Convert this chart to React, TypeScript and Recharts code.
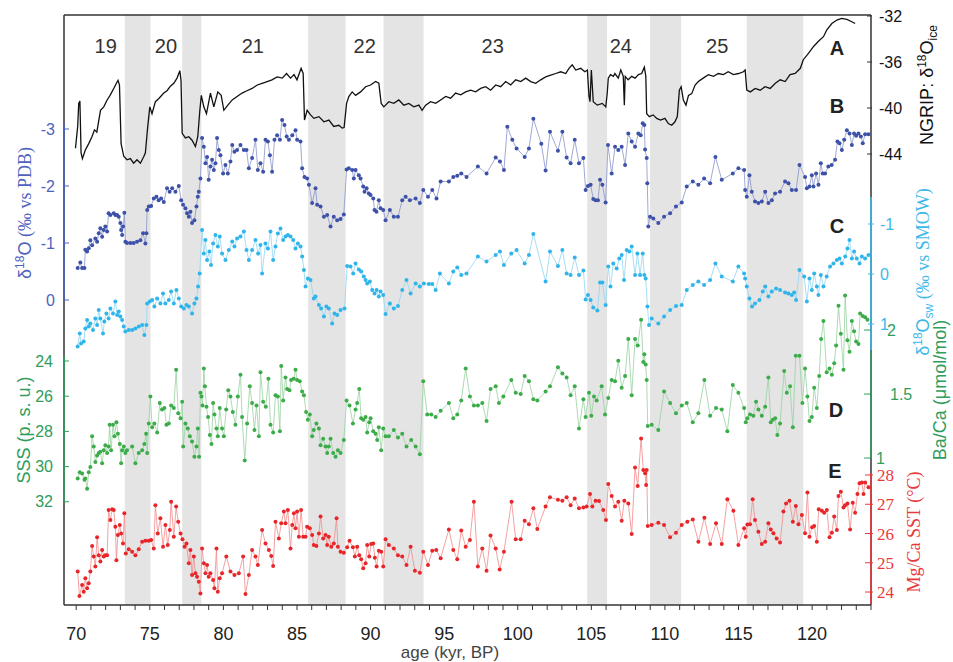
import React from "react";
import {
    ComposedChart,
    Line,
    XAxis,
    YAxis,
    ReferenceArea,
    ReferenceLine,
} from "recharts";

type Pt = [number, number];

// age (kyr BP) / value pairs
const ngrip: Pt[] = [
    [69.95, -43.5], [70.1, -41.6], [70.17, -39.6], [70.25, -39.4], [70.33, -43.9], [70.42, -44.4],
    [70.62, -43.65], [70.85, -43.1], [71.07, -42.5], [71.24, -41.9], [71.4, -42.1], [71.65, -40.2],
    [71.87, -39.9], [72.1, -39.3], [72.3, -38.9], [72.55, -38.3], [72.73, -37.85], [72.84, -37.6],
    [72.94, -38.0], [73.05, -43.1], [73.23, -44.2], [73.45, -44.5], [73.68, -44.4], [73.9, -44.8],
    [74.13, -44.5], [74.36, -44.8], [74.6, -44.2], [74.7, -43.9], [74.86, -41.6], [75.0, -39.9],
    [75.15, -40.5], [75.38, -39.45], [75.6, -39.2], [75.95, -38.7], [76.17, -38.5], [76.4, -38.1],
    [76.63, -37.85], [76.85, -37.4], [77.04, -36.75], [77.12, -37.6], [77.2, -42.2], [77.42, -42.6],
    [77.65, -42.5], [77.87, -42.8], [78.1, -43.35], [78.26, -42.5], [78.4, -40.2], [78.5, -38.9],
    [78.67, -39.9], [78.85, -40.5], [79.12, -38.7], [79.35, -39.9], [79.62, -38.6], [79.85, -38.9],
    [80.03, -40.2], [80.3, -39.75], [80.6, -39.3], [80.93, -39.0], [81.27, -38.7], [81.6, -38.5],
    [81.95, -38.3], [82.3, -38.0], [82.63, -37.85], [82.97, -37.7], [83.3, -37.55], [83.65, -37.3],
    [84.0, -37.4], [84.29, -37.0], [84.56, -37.4], [84.8, -37.1], [85.0, -37.55], [85.28, -36.55],
    [85.42, -37.0], [85.51, -41.05], [85.69, -40.2], [85.92, -40.6], [86.15, -40.9], [86.49, -40.75],
    [86.83, -41.2], [87.17, -41.05], [87.5, -41.6], [87.85, -41.5], [88.07, -41.75], [88.2, -41.7],
    [88.37, -39.6], [88.52, -39.0], [88.75, -38.6], [88.98, -38.9], [89.32, -38.6], [89.66, -38.15],
    [90.0, -38.0], [90.34, -37.7], [90.56, -37.85], [90.72, -39.6], [90.9, -39.9], [91.24, -39.45],
    [91.58, -39.6], [91.92, -39.3], [92.26, -39.75], [92.6, -39.6], [92.94, -39.9], [93.28, -39.75],
    [93.5, -40.2], [93.74, -39.75], [94.08, -39.45], [94.42, -39.6], [94.76, -39.3], [95.1, -39.0],
    [95.44, -39.15], [95.78, -38.7], [96.12, -38.85], [96.46, -38.6], [96.8, -38.45], [97.14, -38.6],
    [97.48, -38.3], [97.82, -38.15], [98.16, -38.45], [98.5, -38.0], [98.84, -38.15], [99.18, -37.7],
    [99.52, -38.0], [99.86, -37.55], [100.2, -37.7], [100.54, -37.4], [100.88, -37.7], [101.22, -37.85],
    [101.56, -37.55], [101.9, -37.3], [102.24, -37.15], [102.58, -37.0], [102.92, -36.85], [103.26, -37.0],
    [103.48, -36.55], [103.7, -36.25], [103.94, -36.7], [104.28, -36.55], [104.55, -36.85], [104.73, -36.7],
    [104.84, -39.0], [104.91, -39.45], [105.0, -36.7], [105.13, -39.45], [105.4, -39.75], [105.74, -39.6],
    [105.98, -39.9], [106.08, -38.7], [106.15, -37.4], [106.3, -37.1], [106.5, -37.25], [106.6, -37.0],
    [106.83, -37.4], [107.0, -36.7], [107.17, -37.25], [107.24, -39.75], [107.3, -37.25], [107.5, -37.55],
    [107.74, -37.25], [107.97, -37.4], [108.2, -37.1], [108.42, -37.0], [108.6, -36.45], [108.7, -37.25],
    [108.76, -40.5], [108.94, -40.75], [109.2, -40.6], [109.44, -40.9], [109.7, -41.05], [110.0, -40.9],
    [110.23, -41.35], [110.46, -41.5], [110.68, -41.2], [110.84, -40.75], [110.98, -38.45], [111.1, -38.15],
    [111.25, -39.3], [111.43, -39.75], [111.6, -38.9], [111.82, -38.75], [112.05, -38.0], [112.27, -37.7],
    [112.6, -37.4], [112.95, -37.1], [113.3, -37.25], [113.63, -37.0], [113.97, -37.1], [114.3, -36.85],
    [114.65, -37.1], [115.0, -37.0], [115.33, -36.85], [115.45, -36.7], [115.56, -38.45], [115.8, -38.6],
    [116.13, -38.3], [116.47, -38.45], [116.8, -38.15], [117.15, -38.3], [117.5, -37.85], [117.83, -37.55],
    [118.17, -37.7], [118.5, -37.1], [118.85, -37.0], [119.2, -36.55], [119.4, -35.8], [119.75, -35.25],
    [120.1, -34.65], [120.43, -34.2], [120.77, -33.8], [121.0, -33.2], [121.34, -32.65], [121.68, -32.35],
    [122.0, -32.2], [122.36, -32.3], [122.7, -32.5], [122.92, -32.65],
];

// planktonic d18O (per mil vs PDB)
const d18o: Pt[] = [
    [70.1, -0.56], [70.28, -0.66], [70.4, -0.56], [70.56, -0.56], [70.62, -0.88], [70.74, -0.85],
    [70.85, -0.91], [70.96, -1.05], [71.08, -0.96], [71.3, -1.08], [71.42, -1.02], [71.53, -1.17],
    [71.64, -1.26], [71.76, -1.11], [71.87, -1.23], [71.98, -1.29], [72.1, -1.2], [72.2, -1.52],
    [72.32, -1.49], [72.55, -1.52], [72.66, -1.49], [72.78, -1.49], [72.89, -1.46], [73.0, -1.35],
    [73.05, -1.23], [73.12, -1.14], [73.18, -1.29], [73.27, -1.53], [73.34, -1.02], [73.45, -1.0],
    [73.68, -1.0], [73.9, -1.0], [74.13, -1.02], [74.36, -1.05], [74.54, -1.17], [74.7, -0.99],
    [74.77, -1.17], [74.82, -1.58], [74.93, -1.64], [75.09, -1.65], [75.27, -1.78], [75.45, -1.81],
    [75.6, -1.75], [75.77, -1.78], [75.95, -1.72], [76.17, -1.96], [76.35, -1.9], [76.52, -1.96],
    [76.74, -1.9], [76.97, -2.0], [77.13, -1.75], [77.26, -1.67], [77.42, -1.61], [77.53, -1.52],
    [77.65, -1.46], [77.76, -1.55], [77.87, -1.35], [78.03, -1.4], [78.17, -1.64], [78.26, -1.81],
    [78.33, -1.9], [78.44, -2.13], [78.55, -2.84], [78.67, -2.69], [78.78, -2.4], [78.89, -2.51],
    [79.0, -2.11], [79.12, -2.34], [79.23, -2.46], [79.35, -2.28], [79.46, -2.4], [79.57, -2.84],
    [79.69, -2.63], [79.8, -2.54], [79.98, -2.22], [80.14, -2.37], [80.3, -2.22], [80.48, -2.43],
    [80.6, -2.72], [80.75, -2.6], [80.93, -2.63], [81.16, -2.72], [81.39, -2.63], [81.57, -2.63],
    [81.73, -2.31], [81.95, -2.49], [82.18, -2.81], [82.34, -2.28], [82.52, -2.4], [82.7, -2.25],
    [82.86, -2.81], [83.02, -2.78], [83.16, -2.54], [83.31, -2.25], [83.47, -2.81], [83.65, -2.89],
    [83.84, -2.81], [83.99, -3.16], [84.15, -3.07], [84.3, -2.87], [84.45, -2.81], [84.68, -2.89],
    [84.9, -2.98], [85.01, -2.81], [85.24, -2.78], [85.35, -2.31], [85.51, -2.16], [85.69, -2.13],
    [85.81, -2.02], [86.03, -1.7], [86.26, -1.96], [86.37, -1.67], [86.6, -1.64], [86.83, -1.46],
    [87.05, -1.49], [87.28, -1.29], [87.5, -1.46], [87.73, -1.4], [87.96, -1.42], [88.18, -1.5],
    [88.37, -2.29], [88.52, -2.31], [88.75, -2.28], [88.86, -2.13], [88.98, -2.28], [89.2, -2.19],
    [89.32, -2.13], [89.5, -1.99], [89.59, -1.9], [89.73, -1.96], [89.88, -1.87], [90.0, -1.84],
    [90.18, -1.78], [90.27, -1.58], [90.4, -1.55], [90.56, -1.75], [90.68, -1.61], [90.86, -1.58],
    [91.02, -1.4], [91.31, -1.58], [91.58, -1.46], [91.86, -1.46], [92.15, -1.75], [92.38, -1.81],
    [92.67, -1.75], [93.06, -1.78], [93.35, -1.7], [93.58, -1.93], [93.9, -1.81], [94.19, -1.93],
    [94.48, -1.78], [94.76, -2.08], [95.32, -2.08], [95.62, -2.16], [95.89, -2.18], [96.16, -2.22],
    [96.52, -2.16], [97.29, -2.34], [97.88, -2.22], [98.5, -2.5], [98.79, -2.43], [99.06, -2.28],
    [99.29, -3.04], [99.63, -2.81], [99.92, -2.66], [100.47, -2.51], [100.76, -2.66], [101.06, -3.18],
    [101.6, -2.74], [101.89, -2.27], [102.19, -2.95], [102.73, -2.62], [103.03, -2.95], [103.32, -2.5],
    [103.59, -2.4], [103.87, -2.81], [104.16, -2.4], [104.46, -2.49], [104.61, -1.93], [104.77, -2.0],
    [104.95, -2.02], [105.13, -1.77], [105.29, -1.75], [105.45, -1.75], [105.59, -2.11], [105.75, -2.02],
    [105.97, -1.71], [106.13, -2.72], [106.38, -2.22], [106.61, -2.69], [106.83, -2.63], [107.06, -2.69],
    [107.29, -2.37], [107.51, -2.92], [107.74, -2.78], [107.97, -2.69], [108.19, -2.92], [108.35, -2.89],
    [108.49, -3.1], [108.6, -3.07], [108.65, -2.64], [108.76, -2.49], [108.8, -2.05], [108.87, -1.29],
    [108.99, -1.46], [109.21, -1.43], [109.55, -1.35], [109.94, -1.46], [110.35, -1.52], [110.75, -1.64],
    [111.14, -1.71], [111.48, -1.99], [111.89, -2.08], [112.27, -2.02], [112.66, -2.13], [113.07, -2.05],
    [113.43, -2.51], [113.86, -2.11], [114.61, -2.22], [114.99, -2.31], [115.38, -2.28], [115.45, -1.93],
    [115.56, -1.81], [115.74, -2.19], [115.9, -1.9], [116.12, -1.73], [116.35, -1.7], [116.58, -1.73],
    [116.81, -1.9], [117.03, -1.7], [117.26, -1.75], [117.48, -1.87], [117.82, -1.9], [118.16, -2.08],
    [118.39, -2.05], [118.62, -1.93], [118.91, -1.93], [119.14, -2.37], [119.52, -2.16], [119.64, -1.96],
    [119.82, -1.99], [119.98, -2.19], [120.09, -1.99], [120.27, -2.22], [120.43, -2.02], [120.59, -2.4],
    [120.72, -2.22], [120.88, -2.22], [121.1, -2.34], [121.33, -2.37], [121.56, -2.46], [121.72, -2.78],
    [121.86, -2.75], [122.02, -2.63], [122.18, -2.81], [122.36, -2.98], [122.54, -2.92], [122.7, -2.72],
    [122.85, -2.92], [122.99, -2.88], [123.15, -2.92], [123.31, -2.87], [123.44, -2.75], [123.6, -2.91],
    [123.83, -2.91],
];

// seawater d18O (per mil vs SMOW)
const d18osw: Pt[] = [
    [70.1, 1.45], [70.24, 1.19], [70.33, 1.39], [70.51, 1.35], [70.62, 1.09], [70.74, 0.92],
    [70.85, 1.05], [70.96, 0.99], [71.14, 1.12], [71.3, 0.89], [71.42, 1.02], [71.53, 0.72],
    [71.64, 0.89], [71.82, 1.19], [71.91, 0.95], [72.05, 0.79], [72.2, 0.89], [72.32, 0.69],
    [72.5, 0.79], [72.66, 0.55], [72.78, 0.82], [72.89, 0.75], [73.0, 0.85], [73.12, 0.92],
    [73.23, 1.05], [73.34, 1.15], [73.57, 1.12], [73.8, 1.12], [74.02, 1.09], [74.25, 1.05],
    [74.48, 1.02], [74.63, 1.22], [74.77, 1.02], [74.82, 0.59], [75.0, 0.55], [75.16, 0.52],
    [75.31, 0.65], [75.5, 0.49], [75.72, 0.59], [75.9, 0.39], [76.06, 0.59], [76.29, 0.52],
    [76.45, 0.35], [76.63, 0.59], [76.81, 0.32], [76.97, 0.49], [77.13, 0.65], [77.31, 0.69],
    [77.49, 0.62], [77.65, 0.65], [77.87, 0.79], [78.03, 0.59], [78.17, 0.49], [78.28, 0.25],
    [78.39, -0.01], [78.55, -0.88], [78.67, -0.41], [78.78, -0.68], [78.89, -0.28], [79.05, -0.45],
    [79.16, -0.18], [79.3, -0.61], [79.46, -0.78], [79.62, -0.55], [79.75, -0.75], [79.91, -0.41],
    [80.14, -0.28], [80.37, -0.48], [80.6, -0.65], [80.75, -0.55], [80.93, -0.71], [81.16, -0.75],
    [81.39, -0.85], [81.57, -0.48], [81.73, -0.28], [81.95, -0.48], [82.18, -0.68], [82.36, -0.41],
    [82.52, -0.58], [82.63, -0.01], [82.86, -0.61], [83.02, -0.51], [83.2, -0.85], [83.38, -0.28],
    [83.54, -0.55], [83.7, -0.81], [83.88, -0.91], [84.06, -0.68], [84.22, -0.75], [84.38, -0.78],
    [84.56, -0.75], [84.74, -0.68], [84.9, -0.51], [85.06, -0.61], [85.24, -0.55], [85.35, -0.35],
    [85.47, -0.08], [85.58, 0.25], [85.74, 0.09], [85.92, 0.12], [86.14, 0.49], [86.26, 0.45],
    [86.49, 0.62], [86.64, 0.69], [86.83, 0.85], [87.0, 0.65], [87.16, 0.69], [87.39, 0.99],
    [87.55, 0.79], [87.73, 0.82], [87.96, 0.72], [88.23, 0.69], [88.41, -0.16], [88.64, -0.15],
    [88.82, -0.01], [88.98, -0.21], [89.2, -0.09], [89.36, -0.05], [89.54, 0.05], [89.66, 0.12],
    [89.77, 0.19], [89.95, 0.15], [90.11, 0.32], [90.27, 0.39], [90.41, 0.32], [90.56, 0.45],
    [90.68, 0.35], [90.86, 0.42], [91.02, 0.8], [91.31, 0.59], [91.58, 0.69], [91.86, 0.64],
    [92.15, 0.32], [92.44, 0.12], [92.72, 0.39], [93.06, 0.19], [93.35, 0.25], [93.62, 0.19],
    [93.96, 0.2], [94.19, 0.2], [94.42, 0.32], [94.71, -0.01], [95.32, 0.19], [95.62, -0.05],
    [95.89, -0.13], [96.16, 0.02], [96.52, -0.01], [97.29, -0.35], [97.88, -0.25], [98.5, -0.38],
    [98.79, -0.45], [99.06, -0.18], [99.56, -0.41], [99.92, -0.48], [100.47, -0.21], [100.76, -0.38],
    [101.06, -0.8], [101.89, 0.15], [102.19, -0.45], [102.73, -0.16], [103.03, -0.48], [103.32, -0.01],
    [103.59, 0.02], [103.87, -0.33], [104.16, 0.02], [104.46, -0.07], [104.61, 0.51], [104.77, 0.42],
    [104.95, 0.52], [105.13, 0.67], [105.41, 0.73], [105.59, 0.17], [105.75, 0.17], [105.97, 0.62],
    [106.15, -0.15], [106.3, 0.25], [106.49, -0.21], [106.72, -0.11], [106.9, -0.31], [107.06, -0.38],
    [107.22, 0.12], [107.4, -0.48], [107.58, -0.45], [107.74, -0.55], [107.97, 0.02], [108.13, -0.41],
    [108.31, 0.02], [108.49, -0.41], [108.6, 0.02], [108.69, 0.09], [108.81, 0.65], [108.92, 1.02],
    [109.1, 0.89], [109.55, 0.99], [109.94, 0.85], [110.35, 0.72], [110.75, 0.64], [111.14, 0.62],
    [111.48, 0.32], [111.89, 0.22], [112.27, 0.15], [112.66, 0.22], [113.07, 0.12], [113.43, -0.21],
    [113.86, 0.05], [114.61, 0.15], [114.99, -0.15], [115.38, -0.01], [115.45, 0.09], [115.56, 0.25],
    [115.74, 0.49], [115.92, 0.65], [116.12, 0.59], [116.42, 0.52], [116.65, 0.35], [116.81, 0.25],
    [117.03, 0.45], [117.26, 0.35], [117.55, 0.29], [117.82, 0.32], [118.16, 0.37], [118.39, 0.39],
    [118.62, 0.42], [118.78, 0.37], [118.91, 0.52], [119.14, -0.08], [119.46, 0.05], [119.64, 0.55],
    [119.82, 0.09], [119.98, 0.32], [120.14, -0.01], [120.32, 0.25], [120.43, 0.42], [120.59, 0.02],
    [120.77, 0.25], [120.99, 0.05], [121.22, -0.15], [121.45, -0.21], [121.68, -0.28], [121.86, -0.31],
    [122.02, -0.21], [122.25, -0.35], [122.4, -0.51], [122.54, -0.68], [122.7, -0.31], [122.85, -0.45],
    [123.03, -0.31], [123.22, -0.21], [123.38, -0.35], [123.6, -0.31], [123.83, -0.38],
];

// Ba/Ca (umol/mol), also read as SSS on the left axis
const baca: Pt[] = [
    [70.1, 0.84], [70.24, 0.89], [70.4, 0.88], [70.56, 0.83], [70.62, 0.84], [70.74, 0.76],
    [70.85, 0.89], [70.96, 0.93], [71.08, 1.17], [71.19, 1.09], [71.3, 0.97], [71.42, 1.02],
    [71.53, 1.04], [71.64, 1.05], [71.76, 0.96], [71.87, 1.06], [71.98, 1.1], [72.1, 1.04],
    [72.2, 1.09], [72.27, 1.26], [72.37, 1.06], [72.5, 1.26], [72.6, 1.17], [72.73, 1.28],
    [72.83, 1.19], [72.96, 1.11], [73.05, 0.96], [73.12, 1.06], [73.23, 1.09], [73.34, 1.04],
    [73.45, 1.06], [73.8, 1.09], [74.02, 0.96], [74.25, 1.04], [74.48, 1.06], [74.63, 1.11],
    [74.75, 1.19], [74.82, 1.04], [74.93, 1.27], [75.04, 1.48], [75.16, 1.24], [75.31, 1.27],
    [75.5, 1.2], [75.68, 1.43], [75.83, 1.38], [75.99, 1.39], [76.13, 1.26], [76.29, 1.27],
    [76.45, 1.41], [76.63, 1.39], [76.79, 1.69], [76.93, 1.35], [77.09, 1.31], [77.2, 1.44],
    [77.27, 1.09], [77.42, 1.27], [77.58, 1.23], [77.72, 1.17], [77.87, 1.13], [78.03, 1.01],
    [78.17, 1.09], [78.26, 1.23], [78.35, 1.01], [78.44, 1.51], [78.51, 1.48], [78.58, 1.41],
    [78.67, 1.7], [78.74, 1.56], [78.85, 1.4], [78.96, 1.32], [79.08, 1.18], [79.19, 1.11],
    [79.3, 1.43], [79.39, 1.34], [79.53, 1.23], [79.62, 1.17], [79.75, 1.39], [79.91, 1.23],
    [80.03, 1.17], [80.19, 1.38], [80.33, 1.53], [80.48, 1.48], [80.64, 1.36], [80.82, 1.26],
    [80.98, 1.48], [81.16, 1.65], [81.27, 1.32], [81.45, 0.98], [81.61, 1.27], [81.79, 1.56],
    [81.95, 1.43], [82.11, 1.22], [82.25, 1.41], [82.41, 1.17], [82.52, 1.67], [82.7, 1.44],
    [82.88, 1.4], [83.06, 1.62], [83.2, 1.26], [83.38, 1.2], [83.54, 1.49], [83.7, 1.48],
    [83.84, 1.21], [83.93, 1.72], [84.06, 1.45], [84.22, 1.63], [84.33, 1.54], [84.49, 1.53],
    [84.6, 1.61], [84.78, 1.62], [84.9, 1.69], [85.01, 1.61], [85.19, 1.6], [85.35, 1.52],
    [85.47, 1.49], [85.62, 1.36], [85.74, 1.3], [85.87, 1.34], [86.03, 1.17], [86.14, 1.22],
    [86.32, 1.27], [86.49, 1.23], [86.6, 1.1], [86.78, 1.15], [86.94, 1.09], [87.05, 1.04],
    [87.16, 1.09], [87.28, 1.15], [87.46, 1.04], [87.62, 1.01], [87.78, 1.06], [87.96, 1.04],
    [88.18, 1.14], [88.37, 1.45], [88.57, 1.41], [88.8, 1.27], [88.98, 1.38], [89.09, 1.43],
    [89.23, 1.54], [89.36, 1.31], [89.5, 1.3], [89.66, 1.32], [89.77, 1.2], [89.91, 1.28],
    [90.0, 1.31], [90.18, 1.21], [90.34, 1.19], [90.45, 1.14], [90.56, 1.24], [90.72, 1.06],
    [90.86, 1.23], [91.02, 1.17], [91.24, 1.17], [91.58, 1.22], [91.86, 1.16], [92.15, 1.19],
    [92.44, 1.09], [92.76, 1.14], [93.06, 1.09], [93.35, 1.03], [93.58, 1.6], [93.85, 1.34],
    [94.12, 1.34], [94.42, 1.32], [94.76, 1.37], [95.32, 1.43], [95.62, 1.31], [95.89, 1.34],
    [96.16, 1.45], [96.46, 1.7], [96.75, 1.48], [97.02, 1.41], [97.29, 1.41], [97.59, 1.43],
    [97.88, 1.29], [98.15, 1.54], [98.5, 1.56], [98.72, 1.43], [99.02, 1.48], [99.56, 1.61],
    [99.86, 1.51], [100.2, 1.5], [100.47, 1.64], [100.76, 1.6], [101.06, 1.46], [101.33, 1.45],
    [101.89, 1.52], [102.19, 1.56], [102.73, 1.71], [103.03, 1.66], [103.32, 1.63], [103.59, 1.49],
    [103.87, 1.56], [104.16, 1.23], [104.46, 1.46], [104.61, 1.32], [104.84, 1.51], [105.0, 1.33],
    [105.18, 1.48], [105.36, 1.45], [105.7, 1.56], [105.93, 1.34], [106.15, 1.47], [106.38, 1.61],
    [106.61, 1.6], [106.83, 1.76], [107.06, 1.55], [107.29, 1.64], [107.51, 1.93], [107.74, 1.49],
    [107.97, 1.93], [108.15, 1.88], [108.38, 2.08], [108.53, 1.75], [108.6, 1.81], [108.69, 1.73],
    [108.76, 1.61], [108.83, 1.25], [109.1, 1.26], [109.55, 1.22], [109.94, 1.52], [110.35, 1.43],
    [110.75, 1.35], [111.14, 1.41], [111.48, 1.43], [111.89, 1.28], [112.27, 1.35], [112.68, 1.61],
    [113.07, 1.33], [113.47, 1.39], [113.86, 1.38], [114.24, 1.21], [114.61, 1.57], [114.99, 1.51],
    [115.38, 1.39], [115.49, 1.28], [115.6, 1.31], [115.78, 1.34], [116.01, 1.33], [116.19, 1.44],
    [116.35, 1.38], [116.58, 1.33], [116.81, 1.4], [117.03, 1.63], [117.19, 1.28], [117.33, 1.3],
    [117.49, 1.31], [117.64, 1.18], [117.82, 1.27], [118.1, 1.68], [118.28, 1.51], [118.5, 1.56],
    [118.69, 1.24], [118.89, 1.8], [119.14, 1.8], [119.34, 1.43], [119.52, 1.7], [119.68, 1.48],
    [119.82, 1.29], [119.98, 1.32], [120.14, 1.55], [120.32, 1.39], [120.48, 1.64], [120.61, 1.93],
    [120.77, 2.07], [120.99, 1.67], [121.18, 1.7], [121.34, 1.65], [121.5, 1.74], [121.63, 1.88],
    [121.79, 2.19], [121.95, 1.97], [122.13, 1.69], [122.24, 2.27], [122.4, 1.92], [122.54, 1.83],
    [122.7, 2.07], [122.85, 1.99], [122.99, 1.91], [123.15, 1.89], [123.26, 2.13], [123.44, 2.11],
    [123.6, 2.1], [123.76, 2.08],
];

// Mg/Ca SST (deg C)
const sst: Pt[] = [
    [70.1, 24.7], [70.22, 23.86], [70.4, 24.24], [70.51, 24.01], [70.62, 24.47], [70.74, 24.13],
    [70.85, 24.3], [70.96, 24.7], [71.08, 25.57], [71.19, 25.21], [71.3, 24.87], [71.42, 25.87],
    [71.53, 25.26], [71.64, 25.04], [71.76, 25.44], [71.87, 25.21], [71.98, 25.26], [72.1, 25.26],
    [72.2, 26.8], [72.32, 26.46], [72.44, 26.83], [72.55, 26.8], [72.66, 26.23], [72.73, 25.09],
    [72.83, 25.95], [72.96, 26.29], [73.05, 26.0], [73.18, 25.66], [73.27, 26.69], [73.37, 25.32],
    [73.57, 25.46], [73.8, 25.38], [74.02, 25.26], [74.25, 25.46], [74.48, 25.72], [74.7, 25.75],
    [74.93, 25.75], [75.09, 25.78], [75.27, 25.49], [75.38, 26.97], [75.54, 26.0], [75.72, 26.52],
    [75.9, 25.55], [76.06, 26.29], [76.22, 25.61], [76.36, 26.12], [76.45, 27.09], [76.63, 25.89],
    [76.79, 26.92], [76.93, 26.4], [77.09, 26.0], [77.22, 25.8], [77.36, 25.55], [77.49, 25.66],
    [77.65, 24.98], [77.76, 25.44], [77.87, 24.58], [77.99, 25.21], [78.1, 24.64], [78.21, 24.52],
    [78.33, 24.35], [78.44, 23.95], [78.55, 25.49], [78.67, 24.98], [78.78, 24.64], [78.89, 24.92],
    [79.0, 24.52], [79.12, 24.64], [79.3, 24.41], [79.39, 24.13], [79.53, 25.49], [79.62, 24.01],
    [79.75, 24.47], [79.91, 24.64], [80.2, 25.21], [80.48, 24.7], [80.75, 24.58], [81.05, 24.64],
    [81.34, 25.21], [81.5, 23.93], [81.73, 24.58], [81.95, 25.44], [82.18, 25.21], [82.34, 24.92],
    [82.63, 26.12], [82.86, 25.66], [83.09, 25.44], [83.25, 25.23], [83.38, 24.89], [83.54, 26.4],
    [83.77, 25.83], [83.93, 26.35], [84.11, 26.75], [84.22, 26.35], [84.38, 26.8], [84.56, 25.49],
    [84.68, 26.29], [84.79, 26.69], [84.9, 26.18], [85.01, 26.75], [85.13, 25.89], [85.28, 26.8],
    [85.42, 25.89], [85.58, 25.89], [85.69, 26.23], [85.87, 26.18], [86.03, 25.95], [86.14, 25.61],
    [86.32, 25.57], [86.49, 26.0], [86.6, 26.58], [86.78, 25.83], [86.94, 25.95], [87.05, 25.61],
    [87.16, 25.89], [87.33, 25.55], [87.5, 25.66], [87.69, 26.52], [87.78, 25.55], [87.96, 25.38],
    [88.18, 25.34], [88.41, 25.53], [88.57, 25.75], [88.8, 25.53], [88.93, 25.21], [89.09, 25.55],
    [89.23, 25.26], [89.36, 25.12], [89.5, 24.81], [89.66, 24.98], [89.77, 25.61], [89.91, 25.21],
    [90.04, 25.64], [90.18, 25.66], [90.29, 25.17], [90.41, 24.87], [90.56, 25.41], [90.72, 25.38],
    [90.86, 24.87], [91.02, 25.8], [91.24, 25.61], [91.58, 25.49], [91.86, 25.26], [92.15, 25.21],
    [92.44, 24.92], [92.72, 25.55], [93.01, 24.73], [93.35, 24.66], [93.58, 25.38], [93.9, 24.92],
    [94.19, 25.41], [94.46, 25.44], [94.76, 25.15], [95.32, 26.14], [95.62, 25.44], [95.89, 25.12],
    [96.16, 26.1], [96.46, 25.55], [96.75, 25.78], [97.02, 27.09], [97.29, 24.87], [97.59, 25.49],
    [97.88, 24.73], [98.15, 25.93], [98.5, 25.49], [98.77, 24.77], [99.06, 25.38], [99.58, 27.09],
    [99.86, 25.8], [100.2, 25.8], [100.47, 26.44], [100.76, 26.32], [101.06, 26.86], [101.33, 26.15],
    [101.89, 26.92], [102.19, 27.24], [102.73, 27.15], [103.03, 27.12], [103.32, 27.24], [103.59, 26.97],
    [103.87, 27.2], [104.16, 26.86], [104.46, 26.89], [104.68, 26.92], [104.91, 27.35], [105.07, 26.92],
    [105.29, 27.12], [105.52, 27.11], [105.81, 26.8], [105.99, 26.46], [106.15, 27.69], [106.38, 27.28],
    [106.61, 26.92], [106.83, 27.09], [107.06, 26.44], [107.24, 27.12], [107.51, 27.03], [107.74, 25.98],
    [107.97, 28.26], [108.15, 27.62], [108.38, 29.25], [108.53, 28.17], [108.65, 28.06], [108.72, 27.66],
    [108.76, 28.17], [108.83, 26.26], [109.1, 26.29], [109.55, 26.37], [109.94, 26.29], [110.35, 25.87],
    [110.75, 26.03], [111.14, 26.29], [111.52, 26.4], [111.89, 26.48], [112.27, 25.72], [112.68, 26.54],
    [113.07, 25.64], [113.47, 26.35], [113.86, 25.64], [114.24, 27.17], [114.65, 26.78], [114.99, 25.61],
    [115.38, 26.18], [115.49, 25.89], [115.6, 26.31], [115.78, 26.32], [115.96, 27.17], [116.12, 26.46],
    [116.35, 26.06], [116.58, 25.64], [116.81, 25.72], [117.03, 26.35], [117.19, 26.14], [117.37, 26.01],
    [117.59, 25.83], [117.82, 25.69], [118.05, 26.75], [118.23, 27.03], [118.46, 27.12], [118.69, 26.4],
    [118.89, 26.94], [119.07, 26.32], [119.3, 26.63], [119.52, 26.01], [119.68, 27.4], [119.82, 25.89],
    [120.0, 26.21], [120.14, 26.26], [120.32, 25.72], [120.45, 26.83], [120.66, 26.78], [120.82, 26.71],
    [121.0, 26.8], [121.18, 25.87], [121.34, 26.03], [121.5, 26.58], [121.68, 26.12], [121.79, 27.28],
    [121.95, 27.43], [122.13, 26.89], [122.24, 26.97], [122.4, 27.03], [122.58, 26.14], [122.76, 27.05],
    [122.92, 26.71], [123.08, 27.35], [123.22, 27.72], [123.38, 27.74], [123.49, 27.35], [123.6, 27.74],
    [123.83, 27.58],
];

// glacial stadials (grey bands), kyr BP
const stadials: Pt[] = [
    [73.3, 75.05], [77.2, 78.5], [85.76, 88.3], [90.88, 93.6],
    [104.72, 106.07], [108.99, 111.1], [115.56, 119.4],
];

// marine isotope stage labels
const misLabels = ["19", "20", "21", "22", "23", "24", "25"];
const misAges = [72.0, 76.1, 82.0, 89.6, 98.3, 107.0, 113.55];

const ngripTicks = [-32, -36, -40, -44];
const d18oTicks = [-3, -2, -1, 0];
const swTicks = [-1, 0, 1];
const bacaTicks = [1, 1.5, 2];
const sssTicks = [24, 26, 28, 30, 32];
const sstTicks = [24, 25, 26, 27, 28];
const ageTicks = Array.from({ length: 55 }, (_, i) => 70 + i);

const X_MIN = 69.17;
const X_MAX = 124;
const PLOT_LEFT = 64;
const PLOT_RIGHT = 871;

const SANS = "'Liberation Sans', Arial, Helvetica, sans-serif";
const SERIF = "'Liberation Serif', 'Times New Roman', serif";

const FRAME = "#333333";
const BLUE = "#3d51a8";
const BLUE_LINE = "#8893cc";
const BLUE_TEXT = "#4f63bd";
const CYAN = "#2fb5ea";
const CYAN_LINE = "#8fd5f2";
const CYAN_TEXT = "#3cb9ea";
const GREEN = "#3cab4a";
const GREEN_LINE = "#98d2a0";
const GREEN_TEXT = "#2f9d5c";
const RED = "#e8262a";
const RED_LINE = "#f28a8a";
const RED_TEXT = "#e8393c";

const rows = (pts: Pt[]) => pts.map(([age, v]) => ({ age, v }));

const ageToPx = (age: number) =>
    PLOT_LEFT + ((age - X_MIN) / (X_MAX - X_MIN)) * (PLOT_RIGHT - PLOT_LEFT);

// the Ba/Ca labels sit a little further out than the others
const BACA_SHIFT: Record<string, number> = { "1": 0, "1.5": 14, "2": 11 };

const BaCaTick = (props: any) => {
    const { x, y, payload } = props;
    return (
        <text
            x={x + (BACA_SHIFT[String(payload.value)] ?? 0)}
            y={y}
            dy="0.35em"
            textAnchor="start"
            fill={GREEN_TEXT}
            fontSize={16}
            fontFamily={SANS}
        >
            {payload.value}
        </text>
    );
};

const dot = (fill: string) => ({ r: 2, fill, stroke: "none" });

// every y axis is 1px wide so it still renders; left axes stack 2px, right axes 4px
const App = () => {
    return (
        <div
            style={{
                position: "absolute",
                left: 0,
                top: 0,
                width: 953,
                height: 662,
                background: "#fff",
            }}
        >
            <ComposedChart
                width={953}
                height={662}
                margin={{ top: 14, right: 953 - PLOT_RIGHT - 4, left: PLOT_LEFT - 2, bottom: 27 }}
            >
                <XAxis
                    type="number"
                    dataKey="age"
                    domain={[X_MIN, X_MAX]}
                    allowDataOverflow
                    ticks={ageTicks}
                    interval={0}
                    tickFormatter={(v: number) => (v % 5 === 0 ? String(v) : "")}
                    tickSize={5}
                    tickMargin={17}
                    height={30}
                    stroke={FRAME}
                    axisLine={{ stroke: FRAME, strokeWidth: 1.5 }}
                    tick={{ fill: "#222", fontSize: 18, fontFamily: SANS }}
                />
                <XAxis
                    xAxisId="top"
                    orientation="top"
                    type="number"
                    dataKey="age"
                    domain={[X_MIN, X_MAX]}
                    allowDataOverflow
                    ticks={ageTicks}
                    interval={0}
                    tick={false}
                    tickSize={-4}
                    height={1}
                    stroke={FRAME}
                    axisLine={{ stroke: FRAME, strokeWidth: 1.5 }}
                />

                <YAxis
                    yAxisId="d18o"
                    orientation="left"
                    width={1}
                    reversed
                    type="number"
                    domain={[-5, 5.351]}
                    allowDataOverflow
                    ticks={d18oTicks}
                    interval={0}
                    axisLine={false}
                    tickSize={-5}
                    tickMargin={14}
                    stroke={BLUE_TEXT}
                    tick={{ fill: BLUE_TEXT, fontSize: 16, fontFamily: SANS }}
                />
                <YAxis
                    yAxisId="sss"
                    orientation="left"
                    width={1}
                    reversed
                    type="number"
                    domain={[4.341, 37.864]}
                    allowDataOverflow
                    ticks={sssTicks}
                    interval={0}
                    axisLine={false}
                    tickSize={-6}
                    tickMargin={16}
                    stroke={GREEN_TEXT}
                    tick={{ fill: GREEN_TEXT, fontSize: 16, fontFamily: SANS }}
                />
                <YAxis
                    yAxisId="ngrip"
                    orientation="right"
                    width={1}
                    type="number"
                    domain={[-83.217, -31.913]}
                    allowDataOverflow
                    ticks={ngripTicks}
                    interval={0}
                    axisLine={false}
                    tickSize={-5}
                    tickMargin={12}
                    stroke={FRAME}
                    tick={{ fill: "#111", fontSize: 16, fontFamily: SANS }}
                />
                <YAxis
                    yAxisId="sw"
                    orientation="right"
                    width={1}
                    reversed
                    type="number"
                    domain={[-5.18, 6.62]}
                    allowDataOverflow
                    ticks={swTicks}
                    interval={0}
                    axisLine={false}
                    tickSize={-6}
                    tickMargin={12}
                    stroke={CYAN_TEXT}
                    tick={{ fill: CYAN_TEXT, fontSize: 16, fontFamily: SANS }}
                />
                <YAxis
                    yAxisId="baca"
                    orientation="right"
                    width={1}
                    type="number"
                    domain={[-0.148, 4.461]}
                    allowDataOverflow
                    ticks={bacaTicks}
                    interval={0}
                    axisLine={false}
                    tickSize={-7}
                    tickMargin={12}
                    stroke={GREEN_TEXT}
                    tick={BaCaTick}
                />
                <YAxis
                    yAxisId="sst"
                    orientation="right"
                    width={1}
                    type="number"
                    domain={[23.556, 43.726]}
                    allowDataOverflow
                    ticks={sstTicks}
                    interval={0}
                    axisLine={false}
                    tickSize={-8}
                    tickMargin={12}
                    stroke={RED_TEXT}
                    tick={{ fill: RED_TEXT, fontSize: 17, fontFamily: SERIF }}
                />

                {stadials.map(([a, b]) => (
                    <ReferenceArea
                        key={a}
                        yAxisId="ngrip"
                        x1={a}
                        x2={b}
                        fill="#e4e4e4"
                        fillOpacity={1}
                        stroke="none"
                        ifOverflow="visible"
                    />
                ))}

                <Line
                    data={rows(ngrip)}
                    dataKey="v"
                    yAxisId="ngrip"
                    stroke="#111"
                    strokeWidth={1.3}
                    dot={false}
                    activeDot={false}
                    isAnimationActive={false}
                />
                <Line
                    data={rows(d18o)}
                    dataKey="v"
                    yAxisId="d18o"
                    stroke={BLUE_LINE}
                    strokeWidth={0.8}
                    dot={dot(BLUE)}
                    activeDot={false}
                    isAnimationActive={false}
                />
                <Line
                    data={rows(d18osw)}
                    dataKey="v"
                    yAxisId="sw"
                    stroke={CYAN_LINE}
                    strokeWidth={0.8}
                    dot={dot(CYAN)}
                    activeDot={false}
                    isAnimationActive={false}
                />
                <Line
                    data={rows(baca)}
                    dataKey="v"
                    yAxisId="baca"
                    stroke={GREEN_LINE}
                    strokeWidth={0.8}
                    dot={dot(GREEN)}
                    activeDot={false}
                    isAnimationActive={false}
                />
                <Line
                    data={rows(sst)}
                    dataKey="v"
                    yAxisId="sst"
                    stroke={RED_LINE}
                    strokeWidth={0.8}
                    dot={dot(RED)}
                    activeDot={false}
                    isAnimationActive={false}
                />

                {/* frame sides, then coloured axis segments on top */}
                <ReferenceLine yAxisId="ngrip" x={X_MIN} stroke={FRAME} strokeWidth={1.5} ifOverflow="visible" />
                <ReferenceLine yAxisId="ngrip" x={X_MAX} stroke={FRAME} strokeWidth={1.5} ifOverflow="visible" />
                <ReferenceLine
                    yAxisId="d18o"
                    segment={[{ x: X_MIN, y: -3.1 }, { x: X_MIN, y: 0 }]}
                    stroke={BLUE_TEXT}
                    strokeWidth={1.6}
                    ifOverflow="visible"
                />
                <ReferenceLine
                    yAxisId="sss"
                    segment={[{ x: X_MIN, y: 23.7 }, { x: X_MIN, y: 32 }]}
                    stroke={GREEN_TEXT}
                    strokeWidth={1.6}
                    ifOverflow="visible"
                />
                <ReferenceLine
                    yAxisId="sw"
                    segment={[{ x: X_MAX, y: -1.54 }, { x: X_MAX, y: 1.52 }]}
                    stroke={CYAN_TEXT}
                    strokeWidth={1.6}
                    ifOverflow="visible"
                />
                <ReferenceLine
                    yAxisId="baca"
                    segment={[{ x: X_MAX, y: 1.84 }, { x: X_MAX, y: 1 }]}
                    stroke={GREEN_TEXT}
                    strokeWidth={1.6}
                    ifOverflow="visible"
                />
                <ReferenceLine
                    yAxisId="sst"
                    segment={[{ x: X_MAX, y: 28.07 }, { x: X_MAX, y: 23.556 }]}
                    stroke={RED_TEXT}
                    strokeWidth={1.6}
                    ifOverflow="visible"
                />
            </ComposedChart>

            <svg
                width={953}
                height={662}
                style={{ position: "absolute", left: 0, top: 0, pointerEvents: "none" }}
            >
                {misLabels.map((s, i) => (
                    <text
                        key={s}
                        x={ageToPx(misAges[i])}
                        y={53}
                        textAnchor="middle"
                        fontSize={20}
                        fontFamily={SANS}
                        fill="#333"
                    >
                        {s}
                    </text>
                ))}

                {[
                    ["A", 837, 55],
                    ["B", 837, 113],
                    ["C", 837, 233],
                    ["D", 836, 417],
                    ["E", 835, 478],
                ].map(([s, x, y]) => (
                    <text
                        key={s as string}
                        x={x as number}
                        y={y as number}
                        textAnchor="middle"
                        fontSize={20}
                        fontWeight="bold"
                        fontFamily={SANS}
                        fill="#222"
                    >
                        {s}
                    </text>
                ))}

                <text x={450} y={658} textAnchor="middle" fontSize={17} fontFamily={SANS} fill="#444">
                    age (kyr, BP)
                </text>

                {/* left titles */}
                <text
                    x={31}
                    y={213}
                    transform="rotate(-90 31 213)"
                    textAnchor="middle"
                    fontSize={18}
                    fontFamily={SANS}
                    fill={BLUE_TEXT}
                >
                    δ<tspan fontSize={12} dy={-7}>18</tspan>
                    <tspan dy={7}>O</tspan>
                    <tspan fontFamily={SERIF}>{" (‰ vs PDB)"}</tspan>
                </text>
                <text
                    x={30}
                    y={430}
                    transform="rotate(-90 30 430)"
                    textAnchor="middle"
                    fontSize={18}
                    fontFamily={SANS}
                    fill={GREEN_TEXT}
                >
                    SSS (p. s. u.)
                </text>

                {/* right titles */}
                <text
                    x={933}
                    y={85}
                    transform="rotate(-90 933 85)"
                    textAnchor="middle"
                    fontSize={18}
                    fontFamily={SANS}
                    fill="#111"
                >
                    NGRIP: δ<tspan fontSize={12} dy={-7}>18</tspan>
                    <tspan dy={7}>O</tspan>
                    <tspan fontSize={12} dy={4}>ice</tspan>
                </text>
                <text
                    x={929}
                    y={272}
                    transform="rotate(-90 929 272)"
                    textAnchor="middle"
                    fontSize={18}
                    fontFamily={SANS}
                    fill={CYAN_TEXT}
                >
                    δ<tspan fontSize={12} dy={-7}>18</tspan>
                    <tspan dy={7}>O</tspan>
                    <tspan fontSize={12} dy={4}>sw</tspan>
                    <tspan dy={-4} fontFamily={SERIF}>{" (‰ vs SMOW)"}</tspan>
                </text>
                <text
                    x={946}
                    y={390}
                    transform="rotate(-90 946 390)"
                    textAnchor="middle"
                    fontSize={18}
                    fontFamily={SANS}
                    fill={GREEN_TEXT}
                >
                    Ba/Ca (μmol/mol)
                </text>
                <text
                    x={920}
                    y={532}
                    transform="rotate(-90 920 532)"
                    textAnchor="middle"
                    fontSize={18}
                    fontFamily={SERIF}
                    fill={RED_TEXT}
                >
                    Mg/Ca SST (°C)
                </text>
            </svg>
        </div>
    );
};

export default App;
